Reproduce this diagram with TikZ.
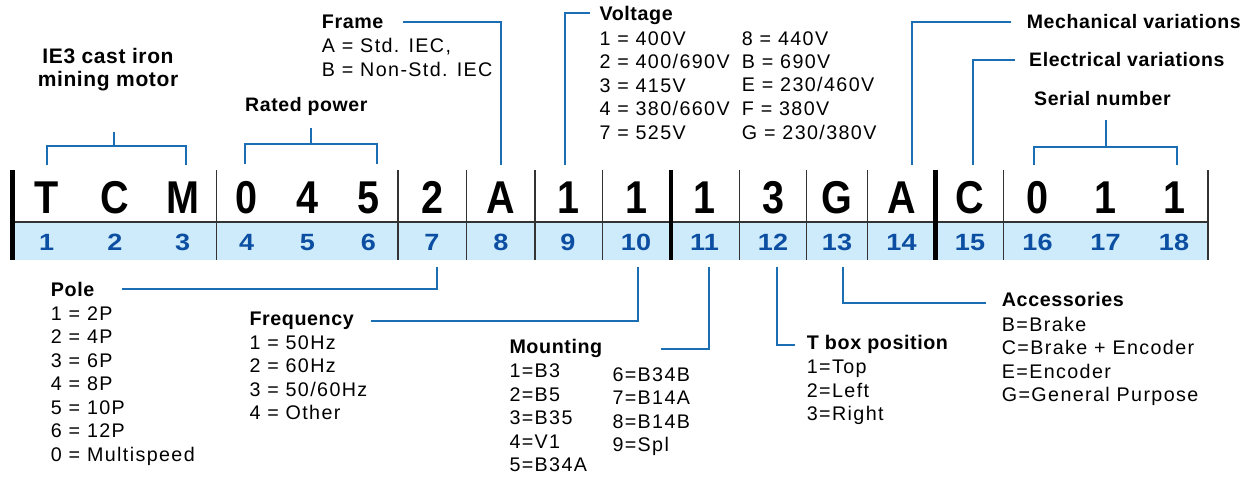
\documentclass[tikz,border=0pt]{standalone}
\usepackage{fontspec}
\setmainfont{Liberation Sans}
\newfontfamily\rgf{Liberation Sans}[LetterSpace=7]
\newfontfamily\bdf{Liberation Sans Bold}[LetterSpace=3]
\newfontfamily\cdf{Liberation Sans Bold}
\definecolor{rowblue}{HTML}{CDEBFA}
\definecolor{numblue}{HTML}{0B4EA2}
\definecolor{connblue}{HTML}{1C6EB4}
\definecolor{divgray}{HTML}{333333}
\newcommand\mycol[1]{\vtop{\baselineskip=23.5pt\lineskiplimit=-100pt\halign{##\hfil\cr#1\crcr}}}
\newcommand\blk[2]{\vtop{\baselineskip=23.5pt\lineskiplimit=-100pt\hbox{\bdf#1}\kern0.8pt\halign{##\hfil\cr#2\crcr}}}
\begin{document}
\begin{tikzpicture}[x=1pt,y=-1pt,
  txt/.style={inner sep=0pt, anchor=base west, font=\rgf\fontsize{19.7}{23.5}\selectfont},
  hd/.style={inner sep=0pt, anchor=base west, font=\bdf\fontsize{19.5}{23.5}\selectfont},
  conn/.style={draw=connblue, line width=2pt},
  codeletter/.style={inner sep=0pt, anchor=base, font=\cdf\fontsize{46}{50}\selectfont, xscale=0.86},
  codenum/.style={inner sep=0pt, anchor=base, text=numblue, font=\cdf\fontsize{23.5}{26}\selectfont, xscale=1.15},
  thinsep/.style={draw=divgray, line width=1.2pt},
  thicksep/.style={draw=black, line width=4.8pt}]
\useasboundingbox (0,0) rectangle (1252,479);
\fill[white] (0,0) rectangle (1252,479);
% code row
\fill[rowblue] (15,222) rectangle (1208,260);
\draw[draw=divgray, line width=1.8pt] (15,222) -- (1208,222);
\foreach \x in {216.7,398,466.7,535,602.7,739.3,806.7,867.3,1003.7,1208}
  \draw[thinsep] (\x,170) -- (\x,260);
\foreach \x in {12.5,671,935.5}
  \draw[thicksep] (\x,170) -- (\x,260);
\foreach \x/\c/\n in {46.7/T/1,115/C/2,182.7/M/3,246.7/0/4,307.3/4/5,368.3/5/6,432/2/7,501/A/8,568/1/9,636/1/10,704.5/1/11,773/3/12,837/G/13,901.5/A/14,970/C/15,1037.5/0/16,1105.5/1/17,1174/1/18}{
  \node[codeletter] (L\n) at (\x,213.3) {\c};
  \node[codenum] (N\n) at (\x,250) {\n};
}
% top labels
\node[inner sep=0pt, anchor=north, align=center, font=\bdf\fontsize{21}{23.3}\selectfont] (ie3) at (108,47.7) {IE3 cast iron\\mining motor};
\coordinate (ie3s) at (114,132); \coordinate (ie3j) at (114,145.7);
\coordinate (t1) at (46.7,165); \coordinate (t3) at (186,165);
\draw[conn] (ie3s) -- (ie3j);
\draw[conn] (t1) |- (ie3j) -| (t3);

\node[hd] (rated) at (245,111.7) {Rated power};
\coordinate (rps) at (310.7,128); \coordinate (rpj) at (310.7,144);
\coordinate (t4) at (245,164); \coordinate (t6) at (376.7,164);
\draw[conn] (rps) -- (rpj);
\draw[conn] (t4) |- (rpj) -| (t6);

\node[txt] (frame) at (321.7,28.3) {\blk{Frame}{A = Std. IEC,\cr B = Non-Std. IEC}};
\coordinate (fr) at (403,21.7); \coordinate (t8) at (501,165);
\draw[conn] (fr) -| (t8);

\node[txt] (volt) at (599.3,20.7) {\blk{Voltage}{1 = 400V\cr 2 = 400/690V\cr 3 = 415V\cr 4 = 380/660V\cr 7 = 525V}};
\node[txt] (volt2) at (741.7,45) {\mycol{8 = 440V\cr B = 690V\cr E = 230/460V\cr F = 380V\cr G = 230/380V}};
\coordinate (vo) at (590,13.3); \coordinate (t9) at (565,165);
\draw[conn] (vo) -| (t9);

\node[hd] (mech) at (1026.7,28.3) {Mechanical variations};
\coordinate (me) at (1011,21.7); \coordinate (t14) at (912,165);
\draw[conn] (me) -| (t14);

\node[hd] (elec) at (1029,66.7) {Electrical variations};
\coordinate (el) at (1015,60); \coordinate (t15) at (972.7,165);
\draw[conn] (el) -| (t15);

\node[hd] (serial) at (1034,105) {Serial number};
\coordinate (sns) at (1105.7,120); \coordinate (snj) at (1105.7,146.7);
\coordinate (t16) at (1034.3,165); \coordinate (t18) at (1176.7,165);
\draw[conn] (sns) -- (snj);
\draw[conn] (t16) |- (snj) -| (t18);

% bottom labels
\node[txt] (pole) at (50.7,296) {\blk{Pole}{1 = 2P\cr 2 = 4P\cr 3 = 6P\cr 4 = 8P\cr 5 = 10P\cr 6 = 12P\cr 0 = Multispeed}};
\coordinate (po) at (121.7,289); \coordinate (b7) at (436.7,267);
\draw[conn] (po) -| (b7);

\node[txt] (freq) at (249.3,325) {\blk{Frequency}{1 = 50Hz\cr 2 = 60Hz\cr 3 = 50/60Hz\cr 4 = Other}};
\coordinate (fq) at (370.7,320.7); \coordinate (b10) at (638.3,267);
\draw[conn] (fq) -| (b10);

\node[txt] (mount) at (509.3,353.3) {\blk{Mounting}{1=B3\cr 2=B5\cr 3=B35\cr 4=V1\cr 5=B34A}};
\node[txt] (mount2) at (612.3,381.2) {\mycol{6=B34B\cr 7=B14A\cr 8=B14B\cr 9=Spl}};
\coordinate (mo) at (661,349); \coordinate (b11) at (709.3,267);
\draw[conn] (mo) -| (b11);

\node[txt] (tbox) at (806.7,349.3) {\blk{T box position}{1=Top\cr 2=Left\cr 3=Right}};
\coordinate (tb) at (795,345); \coordinate (b12) at (776.7,267);
\draw[conn] (b12) |- (tb);

\node[txt] (acc) at (1001.7,306.7) {\blk{Accessories}{B=Brake\cr C=Brake + Encoder\cr E=Encoder\cr G=General Purpose}};
\coordinate (ac) at (985.7,303.3); \coordinate (b13) at (842.7,267);
\draw[conn] (b13) |- (ac);
\end{tikzpicture}
\end{document}
